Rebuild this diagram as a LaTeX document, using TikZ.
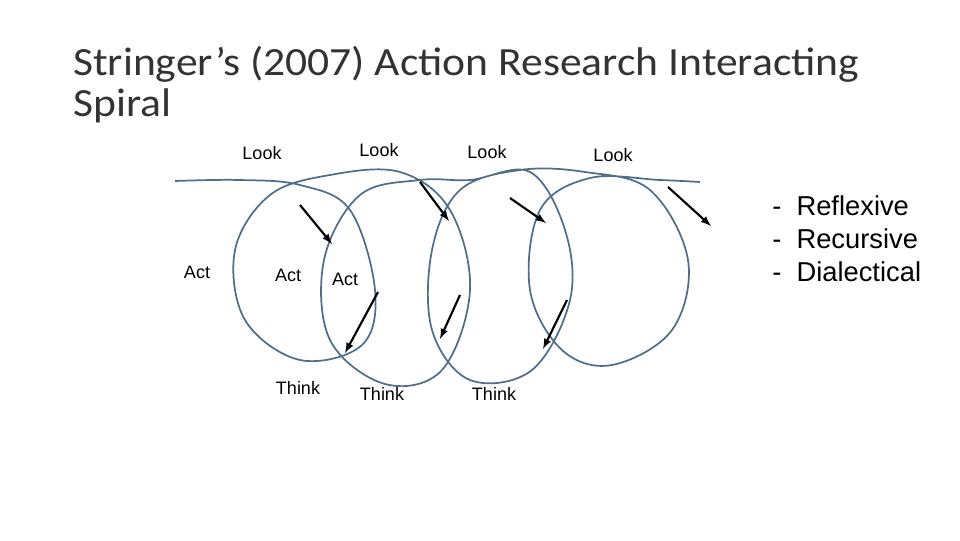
\documentclass[tikz,border=0pt]{standalone}
\usepackage{fontspec}
\setmainfont{Liberation Sans}
\newfontfamily\titlefont[FakeStretch=1.09]{Carlito}
\begin{document}
\begin{tikzpicture}[x=0.75pt,y=-0.75pt,
  lbl/.style={font=\fontsize{13.5}{15}\selectfont,inner sep=0pt},
  arr/.style={-latex,line width=1.6pt,black}]
\useasboundingbox (0,0) rectangle (960,540);
\node[anchor=base west,font=\titlefont\fontsize{30}{33}\selectfont,text=black!80,inner sep=0pt] (title) at (73,75) {Stringer’s (2007) Action Research Interacting};
\node[anchor=base west,font=\titlefont\fontsize{30}{33}\selectfont,text=black!80,inner sep=0pt] (title2) at (73,116) {Spiral};
\draw[line width=1.3pt,color={rgb,255:red,80;green,110;blue,140}] plot[smooth,tension=0.6] coordinates {
(175,181)(240,180)(300,185)(350,210)(375,290)(362,345)(300,360)(245,320)(235,250)(270,195)(330,175)(400,172)(450,210)(470,290)(442,370)(385,384)(330,340)(324,260)(360,195)(420,180)(470,180)(530,172)(565,230)(570,300)(532,370)(470,380)(432,330)(432,250)(460,190)(520,170)(585,172)(650,190)(688,260)(672,330)(612,365)(562,350)(530,290)(540,210)(590,178)(660,180)(700,182)};
\coordinate (a1) at (300,205); \coordinate (b1) at (332,244);
\coordinate (a2) at (420,182); \coordinate (b2) at (449,221);
\coordinate (a3) at (510,198); \coordinate (b3) at (546,223);
\coordinate (a4) at (668,187); \coordinate (b4) at (711,226);
\coordinate (a5) at (378,292); \coordinate (b5) at (345,353);
\coordinate (a6) at (460,295); \coordinate (b6) at (440,339);
\coordinate (a7) at (567,300); \coordinate (b7) at (543,349);
\foreach \i in {1,...,7}{\draw[arr] (a\i) -- (b\i);}
\node[lbl] (l1) at (262,153) {Look};
\node[lbl] (l2) at (379,150) {Look};
\node[lbl] (l3) at (487,152) {Look};
\node[lbl] (l4) at (613,155) {Look};
\node[lbl] (c1) at (197,272) {Act};
\node[lbl] (c2) at (288,275) {Act};
\node[lbl] (c3) at (345,279) {Act};
\node[lbl] (t1) at (298,388) {Think};
\node[lbl] (t2) at (382,394) {Think};
\node[lbl] (t3) at (494,394) {Think};
\node[anchor=north west,align=left,font=\fontsize{20.5}{24.8}\selectfont,inner sep=0pt] (list) at (772,195) {-\ \ Reflexive\\-\ \ Recursive\\-\ \ Dialectical};
\end{tikzpicture}
\end{document}
